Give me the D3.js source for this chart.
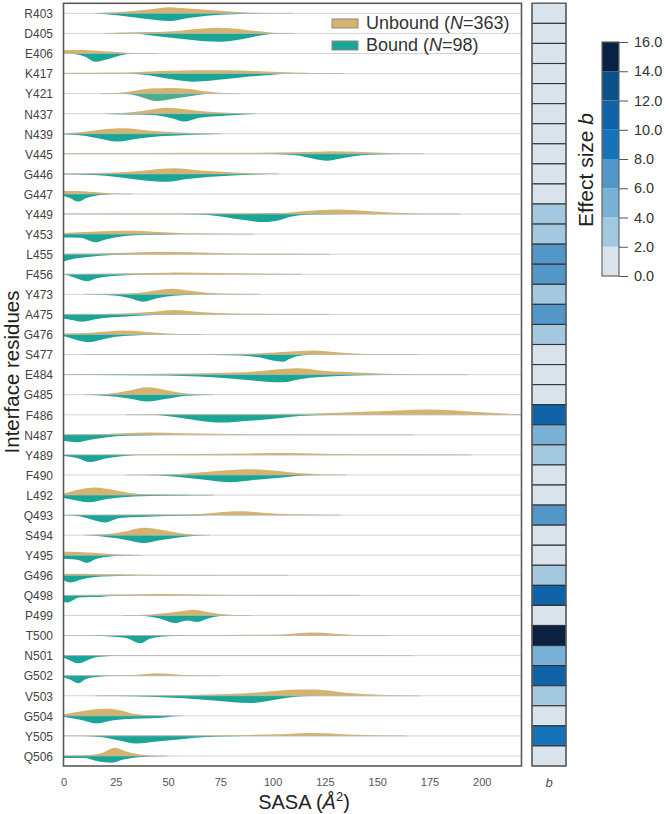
<!DOCTYPE html>
<html><head><meta charset="utf-8">
<script src="https://cdn.jsdelivr.net/npm/d3@7"></script>
<style>
html,body{margin:0;padding:0;background:#fff;}
svg{display:block;font-family:"Liberation Sans",Arial,Helvetica,sans-serif;}
</style></head><body>
<svg id="chart" width="669" height="814"></svg>
<script>
const residues = ["R403","D405","E406","K417","Y421","N437","N439","V445","G446","G447","Y449","Y453","L455","F456","Y473","A475","G476","S477","E484","G485","F486","N487","Y489","F490","L492","Q493","S494","Y495","G496","Q498","P499","T500","N501","G502","V503","G504","Y505","Q506"];

const effectSize = [0.6,1.1,0.4,0.9,0.3,1.2,0.8,0.5,1.0,0.7,3.1,2.8,6.9,7.2,3.4,6.6,2.9,1.3,0.9,0.5,10.8,4.9,3.0,1.0,0.6,6.8,0.7,1.4,3.3,11.2,1.1,15.1,4.6,10.5,2.7,0.8,9.2,1.5];

// density profiles [SASA, relative density]
const unboundProfiles = [
 [[15,0],[25,1],[32,2],[41.5,4],[51,6],[58,5],[65,4],[78,2],[89,0.6],[100,0.2],[110,0]],
 [[20,0],[30,0.8],[40,1.3],[48,1.6],[57,3],[65,4.6],[73.5,5.7],[81,4.8],[89,3],[99,1],[104,0.3],[110,0]],
 [[0,3.2],[6.5,3.5],[12,3.2],[17.5,2.5],[25.6,1.5],[32,0.6],[40,0.2],[45,0]],
 [[0,0.8],[15,0.9],[30,1],[41.5,2],[50,2.7],[57,3.1],[65,3.4],[75,3.3],[85,3],[97,2],[110,1],[122,0.4],[134,0]],
 [[18,0],[25,0.5],[33.5,2.5],[41.5,5],[51,5.6],[59,4.8],[68.6,2],[78,0.3],[84,0]],
 [[20,0],[28,0.8],[36.7,2.5],[44.7,5],[49.5,5.8],[55,5.2],[62,3.5],[73.5,1.5],[84.5,0.5],[92,0]],
 [[0,0.5],[5,1],[10,2],[17.5,4],[28.7,5.4],[41.5,3],[52.6,1.5],[65,0.5],[76,0]],
 [[0,0.6],[40,0.8],[90,1],[110,1.5],[120,2],[129,2.5],[140,2],[158,0.5],[172,0]],
 [[0,0.5],[17.5,1],[33.5,2.5],[41.5,4],[52.6,5.6],[65,3.5],[78,2],[89,0.8],[103,0]],
 [[0,3],[6,3],[12,2.2],[17.5,1.5],[27,0.3],[33,0]],
 [[0,0.3],[50,0.5],[90,0.8],[104,1],[116,3],[131,4.6],[145,3],[156,1.5],[167,0.5],[180,0.2],[190,0]],
 [[0,1],[9.5,2],[22.3,3],[33.5,3.4],[46,2],[59,0.8],[73.4,0.3],[91,0]],
 [[0,0.3],[8,0.6],[17.5,1],[33.5,1.8],[46,2.4],[65,1.6],[81,0.8],[97,0.4],[115,0.2],[127,0]],
 [[0,0.2],[17.5,0.5],[33.5,1],[49.5,1.5],[57.5,1.7],[73,1.2],[89,0.7],[105,0.3],[114,0]],
 [[10,0],[25.5,0.5],[36.7,1.5],[44.7,4],[51.9,5.5],[60.5,3.5],[68.6,1.5],[81,0.5],[94,0]],
 [[0,0.2],[17.5,0.5],[33.5,1.5],[44.7,3],[52.6,4.4],[65,2.5],[81,1],[97,0.5],[112,0.2],[127,0]],
 [[0,1],[11,1.5],[20.7,3],[29.5,3.9],[40,2.5],[49.5,1],[59,0.3],[66,0]],
 [[10,0],[30,0.3],[65,0.3],[81,0.7],[97,1.5],[104,2.6],[113,3.6],[119.6,4],[129,2.5],[138.6,1],[151,0.3],[170,0]],
 [[0,0.2],[33.5,0.4],[57.5,1],[81,2],[97,4],[106,5.8],[112,6.3],[122.7,4.2],[135.5,2.5],[151,1],[167,0.4],[193,0]],
 [[12,0],[17.5,0.5],[25.5,2],[33.5,5],[39.8,7.3],[48,5],[55.8,2],[65,0.5],[72,0]],
 [[30,0],[40,0.4],[80,0.5],[100,0.8],[119.6,1.2],[143,3],[160,4.3],[174,5.2],[185,4.5],[196,3],[208,1.5],[215,0.7],[219,0.5]],
 [[0,0.2],[17.5,0.5],[28.7,1.5],[41.5,2.4],[57.5,1.5],[73.4,1],[89,0.5],[120,0.3],[167,0]],
 [[0,0.2],[33.5,0.5],[65,0.8],[89,1.5],[108,1.8],[119.6,1.3],[135.5,0.6],[151,0.3],[175,0.15],[195,0]],
 [[30,0],[49.5,0.5],[62,2],[73.4,4],[87.7,5.8],[100,4.5],[108,2.8],[116,1.5],[124,0.5],[135,0]],
 [[0,1.5],[6.4,5],[15.2,7.6],[24,5],[31.9,2],[41.5,0.7],[57.5,0.3],[65,0]],
 [[5,0],[30,0.3],[49.5,0.5],[65,1.2],[84.5,3.8],[97,2],[108,0.8],[120,0.3],[132,0]],
 [[10,0],[14.5,0.5],[22.3,1.5],[30,4],[38.2,7.5],[48,5],[55.8,2],[62,0.5],[68,0]],
 [[0,3.5],[6.4,3.3],[17.5,2],[24,1],[30,0.4],[37,0]],
 [[0,1.5],[14.5,1.4],[25.5,1],[41.5,0.6],[57.5,0.3],[75,0.15],[107,0]],
 [[0,0.3],[17.5,0.7],[36.7,1.2],[49.5,1.3],[65,0.8],[81,0.4],[110,0.15],[142,0]],
 [[28,0],[41.5,1],[49.5,2.5],[59,5],[62,5.6],[68.6,3.5],[75,1.5],[84.5,0.3],[90,0]],
 [[0,0.1],[50,0.3],[97,0.8],[104,1],[112,2.2],[119.6,3],[128,2],[135.5,1],[143.6,0.3],[155,0]],
 [[0,0.4],[50,0.4],[100,0.4],[140,0.3],[167,0]],
 [[0,0.2],[20,0.3],[33.5,0.8],[44.7,2.4],[55.8,1],[65,0.3],[75,0]],
 [[15,0],[49.5,0.5],[65,1],[81.5,2],[97,4],[105,5.5],[113,6.3],[120,6.3],[135.5,3],[151,1],[162,0.3],[170,0]],
 [[0,1.5],[10,5],[15.2,6.5],[20.7,7],[27,5.5],[33.5,2],[41.5,0.5],[48,0]],
 [[0,0.1],[40,0.3],[65,0.5],[89,1],[104,1.6],[113,2.6],[120,2.8],[135.5,1.5],[151,0.5],[164,0]],
 [[0,0.3],[10,0.8],[17.5,2.5],[24.7,8.3],[30,4.5],[36.7,1.5],[43,0.3],[48,0]]
];

const boundProfiles = [
 [[15,0],[25.7,2],[37,5],[45,6.8],[51,7.7],[59,5],[68.6,2.5],[81,1],[90,0.3],[96,0]],
 [[35,0],[46,3],[57,5.5],[66,7.5],[75,8.2],[84.5,6],[94,2],[99,0.5],[103,0]],
 [[3,0],[6.5,1],[10,3],[15.2,8.2],[22.3,5],[27,2],[32,0.3],[36,0]],
 [[30,0],[41.5,2],[49.5,5],[62,8.1],[78,5.5],[89,3],[99,1.5],[106,0.3],[110,0]],
 [[28,0],[36.7,3],[41,6],[44.7,7.3],[52.6,5],[62,2],[68,0.3],[72,0]],
 [[20,0],[30,0.8],[40,1],[46,2],[52.6,5],[57.5,7.9],[65,4],[73.5,2.5],[84.5,1],[92,0]],
 [[0,0.5],[10,2],[17.5,5],[25.5,7.8],[36.7,4.5],[46,2.5],[57,1.5],[65,0.8],[75,0]],
 [[95,0],[103.6,0.5],[113,2],[119.5,5],[126,7],[132,5],[138.6,2.5],[146.6,1],[158,0.2],[165,0]],
 [[0,0.3],[14.5,1],[25.5,3],[36.7,6],[49.5,7.8],[59,5],[68.6,3],[81,1.5],[90.8,0.5],[98,0]],
 [[0,2],[3,4],[7,7.6],[11,4],[17.5,1],[22,0.2],[25,0]],
 [[55,0],[65,0.5],[73.4,2],[84.5,5.5],[95.6,8],[103.6,6],[108,3],[113,1.2],[120,0.4],[135,0]],
 [[0,3.3],[8,3.6],[15.2,8],[20.7,5],[27,2.5],[36.7,1],[49.5,0.3],[56,0]],
 [[0,7.4],[4,5],[10.6,3],[17.5,1.5],[25.5,0.5],[37,0]],
 [[0,0.3],[1,0.5],[4,2.5],[7.5,5],[11.2,7],[15.9,4],[22.3,2],[30,1],[41.5,0.3],[48,0]],
 [[12,0],[25.5,1.5],[31.9,4],[38.2,7.5],[44.7,4],[52.6,1.5],[60.5,0.5],[66,0]],
 [[0,4],[4,5.5],[8.8,7.3],[14.5,5],[22,3],[30,2],[38,1],[49.5,0.3],[56,0]],
 [[0,1.5],[4,4],[11.9,7.7],[17.5,5.5],[24,2.5],[33.5,1],[43,0.3],[48,0]],
 [[60,0],[72,0.4],[84.5,1],[94,3],[100,6],[105,7.2],[108,4.5],[111,2],[115,0.6],[122,0]],
 [[0,0.1],[17.5,0.3],[49.5,1],[65,2],[81,4],[97,7],[105,7.6],[113,4.5],[122.7,2.5],[135.5,1.2],[151,0.4],[165,0]],
 [[10,0],[14,0.2],[25.5,2],[33.5,4.5],[39.8,6.8],[49.5,4],[59,1],[68.6,0.2],[72,0]],
 [[40,0],[44.7,0.3],[54,2.5],[65,6],[75,7.8],[89,6],[105,3],[113,1.2],[127,0.3],[143,0]],
 [[0,6],[6.4,7.4],[12.8,5],[20.7,2.5],[30,1],[41.5,0.3],[50,0]],
 [[0,1],[6.4,3],[12.8,7.2],[19,4],[27,1.5],[33.5,0.3],[38,0]],
 [[40,0],[44.7,0.3],[57.5,2.5],[68.6,5],[79.7,7.2],[91,5],[102,3],[110,1.2],[116,0.3],[120,0]],
 [[0,3],[6.4,5.5],[11.9,7.3],[20.7,4],[33.5,1.5],[49.5,0.8],[65,0.3],[72,0]],
 [[0,0],[5,0.5],[10,2.5],[14.6,5],[20,7.3],[27,3],[36.7,2],[49.5,1],[62,0.3],[70,0]],
 [[12,0],[17.5,1],[25.5,3],[31.9,5.5],[38.2,7.7],[46,5],[55.8,2],[65,0.3],[70,0]],
 [[0,3.5],[4,4],[7.5,5],[11,7.6],[15.9,3.5],[22.3,1.2],[30,0.3],[34,0]],
 [[0,5],[3.3,7.2],[9,4],[14.5,2],[22.3,1],[30,0.3],[35,0]],
 [[0,6.5],[2,7],[3.3,6],[7.5,2],[12.8,1.5],[17.5,1.5],[22.3,0.5],[33.5,0.2],[38,0]],
 [[36,0],[41,1],[46,3],[53.4,7.6],[59,5],[63.8,6.4],[70,2.5],[75,0.5],[78,0]],
 [[5,0],[15,0.3],[22.3,1],[30,2.5],[36.7,7.8],[41.5,3],[48,1],[55.8,0.3],[60,0]],
 [[0,2],[3.3,5],[7.1,7.6],[11,5],[15.9,1.5],[22.3,0.3],[26,0]],
 [[0,1.5],[3.3,4],[7.1,7.5],[11,3],[15.9,1.2],[22.3,0.3],[26,0]],
 [[15,0],[25,0.3],[41.5,1],[57.5,2.5],[73.4,5],[89,7.3],[97,5.5],[104,3],[110,1.2],[118,0.3],[124,0]],
 [[0,1],[8,4],[15.9,7.6],[24,4.5],[33.5,3],[41.5,2.5],[49.5,1.5],[54,0.3],[57,0]],
 [[8,0],[17.5,1],[25.5,4],[35,7.6],[44.7,5.5],[57.5,3],[68.6,1.2],[81,0.4],[97,0.1],[105,0]],
 [[0,2],[10,2],[15.9,5],[23,6.7],[28.7,3.5],[36.7,1],[44.7,0.3],[50,0]]
];

const xTicks = [0,25,50,75,100,125,150,175,200];
const cbTicks = [0,2,4,6,8,10,12,14,16];
const cbColors = ["#d9e3ec","#a3c9e0","#78b0d6","#5396c8","#1673ba","#0f63a6","#0c5289","#0b2143"];
const seriesNames = ["Unbound","Bound"];
const seriesN = [363,98];
const seriesColors = ["#d5b36c","#1aa597"];
const boundColorOverride = {"Y421":"#4dad8f"};

const svg = d3.select("#chart");
const plot = {left:63.5, right:521.5, top:3.3, bottom:766};

const x = d3.scaleLinear().domain([0,219]).range([plot.left, plot.right]);
const y = d3.scaleBand().domain(residues).range([plot.top, plot.bottom]);
const bw = y.bandwidth();
const h = d3.scaleLinear().domain([0,10]).range([0, bw/2]);
const cy = r => y(r) + bw/2;

svg.append("defs").append("clipPath").attr("id","clip")
  .append("rect").attr("x",plot.left).attr("y",plot.top)
  .attr("width",plot.right-plot.left).attr("height",plot.bottom-plot.top);

// grid lines
svg.append("g").selectAll("line").data(residues).join("line")
  .attr("x1",plot.left).attr("x2",plot.right)
  .attr("y1",d=>cy(d)).attr("y2",d=>cy(d))
  .attr("stroke","#d3d3d3").attr("stroke-width",1);

const vg = svg.append("g").attr("clip-path","url(#clip)");
residues.forEach((r,i)=>{
  const c = cy(r);
  const up = d3.area().curve(d3.curveMonotoneX)
    .x(d=>x(d[0])).y0(c).y1(d=>c - h(d[1]));
  const dn = d3.area().curve(d3.curveMonotoneX)
    .x(d=>x(d[0])).y0(c).y1(d=>c + h(d[1]));
  vg.append("path").attr("d",up(unboundProfiles[i])).attr("fill",seriesColors[0]);
  vg.append("path").attr("d",dn(boundProfiles[i])).attr("fill",boundColorOverride[r]||seriesColors[1]);
  const all = unboundProfiles[i].concat(boundProfiles[i]);
  const ext = d3.extent(all, d=>d[0]);
  vg.append("line").attr("x1",x(ext[0])).attr("x2",x(ext[1]))
    .attr("y1",c).attr("y2",c).attr("stroke","#b5b5b5").attr("stroke-width",0.9).attr("opacity",0.8);
});

// frame
svg.append("rect").attr("x",plot.left).attr("y",plot.top)
  .attr("width",plot.right-plot.left).attr("height",plot.bottom-plot.top)
  .attr("fill","none").attr("stroke","#5a5a5a").attr("stroke-width",1.6);

// axes
const xa = svg.append("g").attr("transform",`translate(0,${plot.bottom})`)
  .call(d3.axisBottom(x).tickValues(xTicks).tickSize(0).tickPadding(12));
xa.select(".domain").remove();
xa.selectAll("text").attr("font-size",11).attr("fill","#555").attr("font-family",null);

const ya = svg.append("g").attr("transform",`translate(${plot.left},0)`)
  .call(d3.axisLeft(y).tickSize(0).tickPadding(10.5));
ya.select(".domain").remove();
ya.selectAll("text").attr("font-size",12).attr("fill","#444").attr("font-family",null).attr("dy","0.4em");

// titles
svg.append("text").attr("transform","translate(18.5,372) rotate(-90)")
  .attr("text-anchor","middle").attr("font-size",20.5).attr("fill","#222")
  .text("Interface residues");
const xt = svg.append("text").attr("x",304).attr("y",808.5)
  .attr("text-anchor","middle").attr("font-size",20).attr("fill","#222");
xt.append("tspan").text("SASA (");
xt.append("tspan").attr("font-style","italic").text("Å");
xt.append("tspan").attr("font-size",13).attr("dy",-8).text("2");
xt.append("tspan").attr("dy",8).text(")");

// legend
const lg = svg.append("g");
seriesNames.forEach((n,i)=>{
  const ly = 19 + i*22;
  lg.append("rect").attr("x",332).attr("y",ly).attr("width",26).attr("height",9)
    .attr("fill",seriesColors[i]).attr("stroke","#8a8a8a").attr("stroke-width",1);
  const t = lg.append("text").attr("x",366).attr("y",ly+9.5).attr("font-size",18).attr("fill","#333");
  t.append("tspan").text(n+" (");
  t.append("tspan").attr("font-style","italic").text("N");
  t.append("tspan").text("="+seriesN[i]+")");
});

// heatmap column
const color = d3.scaleThreshold().domain(cbTicks.slice(1,-1)).range(cbColors);
const hx = d3.scaleBand().domain(["b"]).range([532,566]);
svg.append("g").selectAll("rect").data(residues).join("rect")
  .attr("x",hx("b")).attr("width",hx.bandwidth())
  .attr("y",d=>y(d)).attr("height",bw)
  .attr("fill",(d,i)=>color(effectSize[i]))
  .attr("stroke","#333").attr("stroke-width",1.1);
svg.append("rect").attr("x",hx("b")).attr("y",plot.top).attr("width",hx.bandwidth())
  .attr("height",plot.bottom-plot.top).attr("fill","none").attr("stroke","#666").attr("stroke-width",1.2);
const hxa = svg.append("g").attr("transform",`translate(0,${plot.bottom})`)
  .call(d3.axisBottom(hx).tickSize(0).tickPadding(12));
hxa.select(".domain").remove();
hxa.selectAll("text").attr("font-size",13).attr("font-style","italic").attr("fill","#555").attr("font-family",null);

// colorbar
const cbY = d3.scaleLinear().domain([0,16]).range([276,42]);
const cbx = 602, cbw = 17;
svg.append("g").selectAll("rect").data(cbColors).join("rect")
  .attr("x",cbx).attr("width",cbw)
  .attr("y",(d,i)=>cbY(cbTicks[i+1])).attr("height",(d,i)=>cbY(cbTicks[i])-cbY(cbTicks[i+1]))
  .attr("fill",d=>d);
svg.append("rect").attr("x",cbx).attr("y",cbY(16)).attr("width",cbw).attr("height",cbY(0)-cbY(16))
  .attr("fill","none").attr("stroke","#666").attr("stroke-width",1.2);
const cba = svg.append("g").attr("transform",`translate(${cbx+cbw},0)`)
  .call(d3.axisRight(cbY).tickValues(cbTicks).tickFormat(d3.format(".1f")).tickSize(9).tickPadding(6));
cba.select(".domain").remove();
cba.selectAll("line").attr("stroke","#555");
cba.selectAll("text").attr("font-size",14.5).attr("fill","#333").attr("font-family",null);
const et = svg.append("text").attr("transform","translate(593,170) rotate(-90)")
  .attr("text-anchor","middle").attr("font-size",21).attr("fill","#222");
et.append("tspan").text("Effect size ");
et.append("tspan").attr("font-style","italic").text("b");
</script>
</body></html>
